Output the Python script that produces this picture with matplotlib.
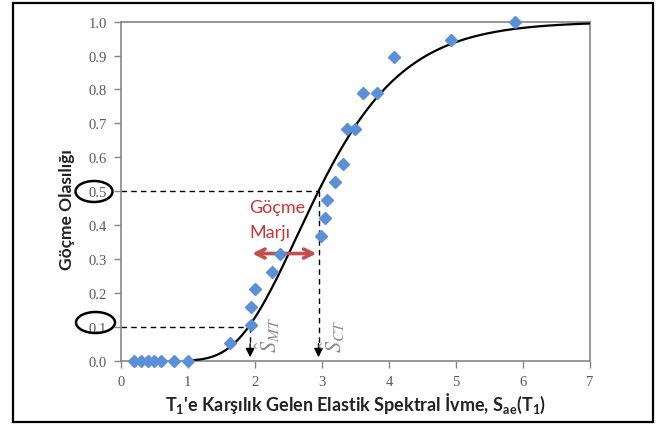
import math
import numpy as np
import matplotlib
matplotlib.use("Agg")
import matplotlib.pyplot as plt
from matplotlib.patches import Ellipse, Rectangle

plt.rcParams["font.family"] = ["Lato", "Open Sans", "DejaVu Sans"]
plt.rcParams["mathtext.fontset"] = "custom"
plt.rcParams["mathtext.rm"] = "Lato:bold"
plt.rcParams["mathtext.bf"] = "Lato:bold"
plt.rcParams["mathtext.it"] = "Lato:bold"

# observed collapse fractions vs. spectral acceleration
sa_obs = [0.2, 0.3, 0.4, 0.5, 0.6, 0.8, 1.0,
          1.63, 1.94, 1.94, 2.0, 2.25, 2.37,
          2.98, 3.04, 3.08, 3.2, 3.31, 3.38, 3.5,
          3.62, 3.82, 4.07, 4.92, 5.88]
p_obs = [0.0, 0.0, 0.0, 0.0, 0.0, 0.0, 0.0,
         0.053, 0.105, 0.158, 0.21, 0.263, 0.316,
         0.368, 0.421, 0.474, 0.526, 0.579, 0.684, 0.684,
         0.789, 0.789, 0.895, 0.947, 1.0]

# fitted lognormal fragility curve
median_sa = 2.95
beta = 0.34

s_mt = 1.93   # Sa at 10% collapse probability
s_ct = 2.95   # median collapse capacity
p_mt = 0.1
p_ct = 0.5

x_ticks = [0, 1, 2, 3, 4, 5, 6, 7]
y_ticks = [0.0, 0.1, 0.2, 0.3, 0.4, 0.5, 0.6, 0.7, 0.8, 0.9, 1.0]

sa_curve = np.linspace(1.0, 7.0, 300)
p_curve = np.array([0.5 * (1 + math.erf(math.log(s / median_sa) / (beta * math.sqrt(2))))
                    for s in sa_curve])

fig = plt.figure(figsize=(6.6, 4.27), dpi=100)
ax = fig.add_axes([0.1829, 0.153, 0.7111, 0.794])

ax.plot(sa_curve, p_curve, color="black", lw=1.6, zorder=3)
ax.plot(sa_obs, p_obs, linestyle="none", marker="D", ms=6.5,
        color="#5b8fd6", zorder=4, clip_on=False)

# dashed guides down to the axis with arrow heads
for s, p in [(s_mt, p_mt), (s_ct, p_ct)]:
    ax.plot([0, s], [p, p], color="black", lw=1, dashes=(4, 3), zorder=2)
    ax.plot([s, s], [p, 0.04], color="black", lw=1, dashes=(4, 3), zorder=2)
    ax.annotate("", xy=(s, 0.01), xytext=(s, 0.05),
                arrowprops=dict(arrowstyle="-|>", color="black", lw=1,
                                mutation_scale=13, shrinkA=0, shrinkB=0))

# collapse margin
ax.annotate("", xy=(1.96, 0.316), xytext=(2.92, 0.316),
            arrowprops=dict(arrowstyle="<->", color="#c0504d", lw=2.6,
                            mutation_scale=16, shrinkA=0, shrinkB=0))
ax.text(2.33, 0.452, "Göçme", color="#cc3333", fontsize=13,
        ha="center", va="center")
ax.text(2.22, 0.38, "Marjı", color="#cc3333", fontsize=13,
        ha="center", va="center")

ax.text(s_mt + 0.26, 0.025, r"$\hat{S}_{MT}$", rotation=90, color="#8c8c8c",
        fontsize=16, ha="center", va="bottom", math_fontfamily="stix")
ax.text(s_ct + 0.22, 0.025, r"$\hat{S}_{CT}$", rotation=90, color="#8c8c8c",
        fontsize=16, ha="center", va="bottom", math_fontfamily="stix")

ax.set_xlim(0, 7)
ax.set_ylim(0, 1)
ax.set_xticks(x_ticks)
ax.set_yticks(y_ticks)
ax.set_xticklabels([str(t) for t in x_ticks])
ax.set_yticklabels([f"{t:.1f}" for t in y_ticks])
ax.tick_params(axis="both", direction="out", length=5, width=1,
               color="#868686", labelcolor="#595959", labelsize=10.5)
ax.tick_params(axis="y", pad=5)
ax.tick_params(axis="x", pad=5)
for lab in ax.get_xticklabels() + ax.get_yticklabels():
    lab.set_family(["Liberation Serif", "DejaVu Serif"])
for sp in ax.spines.values():
    sp.set_color("#868686")
    sp.set_linewidth(1.2)

ax.set_xlabel(r"T$_\mathrm{1}$'e Karşılık Gelen Elastik Spektral İvme, "
              r"S$_\mathrm{ae}$(T$_\mathrm{1}$)",
              fontsize=13, fontweight="bold", color="#222222")
ax.xaxis.set_label_coords(0.5, -0.088)
fig.text(67 / 660, 1 - 210 / 427, "Göçme Olasılığı", rotation=90,
         fontsize=12.5, fontweight="bold", color="#222222",
         ha="center", va="center")

# circles around the 0.5 and 0.1 tick labels
fig.add_artist(Ellipse((94 / 660, 1 - 192.5 / 427), 37 / 660, 21 / 427,
                       transform=fig.transFigure, fill=False,
                       edgecolor="black", lw=1.8))
fig.add_artist(Ellipse((95.5 / 660, 1 - 323.5 / 427), 39 / 660, 21 / 427,
                       transform=fig.transFigure, fill=False,
                       edgecolor="black", lw=1.8))

# outer frame
fig.add_artist(Rectangle((13 / 660, 4 / 427), 640 / 660, 419 / 427,
                         transform=fig.transFigure, fill=False,
                         edgecolor="black", lw=1.6))

fig.savefig("out.png", dpi=100)
